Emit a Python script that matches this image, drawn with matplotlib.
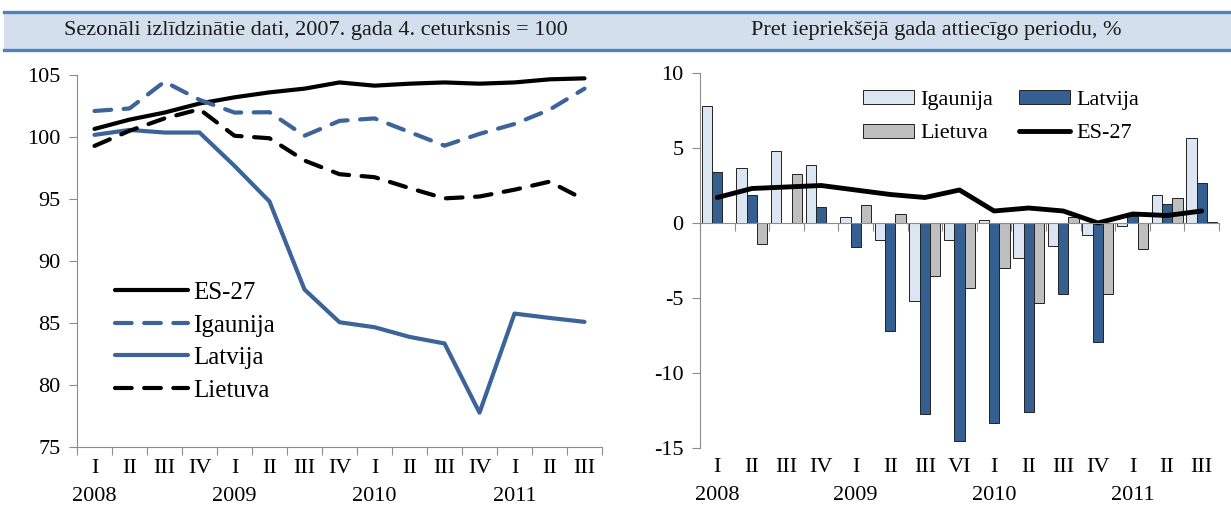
import matplotlib
matplotlib.use("Agg")
import matplotlib.pyplot as plt
import matplotlib.transforms as mtransforms
from matplotlib.patches import Rectangle
from matplotlib.lines import Line2D
import numpy as np

plt.rcParams['font.family'] = ['Liberation Serif', 'DejaVu Serif']
plt.rcParams['axes.unicode_minus'] = False

# categories
quarters_left = ['I', 'II', 'III', 'IV', 'I', 'II', 'III', 'IV', 'I', 'II', 'III', 'IV', 'I', 'II', 'III']
quarters_right = ['I', 'II', 'III', 'IV', 'I', 'II', 'III', 'VI', 'I', 'II', 'III', 'IV', 'I', 'II', 'III']
years = ['2008', '2009', '2010', '2011']
year_pos = [0, 4, 8, 12]

# left panel: index, 2007 Q4 = 100
es27_idx = [100.65, 101.4, 101.97, 102.7, 103.2, 103.6, 103.9, 104.4, 104.14, 104.3, 104.4, 104.3, 104.4, 104.65, 104.73]
ee_idx = [102.1, 102.3, 104.46, 103.0, 101.97, 102.0, 100.1, 101.3, 101.5, 100.4, 99.3, 100.25, 101.05, 102.2, 103.9]
lv_idx = [100.17, 100.57, 100.36, 100.36, 97.67, 94.8, 87.7, 85.06, 84.66, 83.88, 83.35, 77.77, 85.76, 85.41, 85.09]
lt_idx = [99.28, 100.5, 101.5, 102.24, 100.1, 99.9, 98.1, 97.0, 96.76, 95.88, 95.05, 95.2, 95.75, 96.4, 94.94]

# right panel: y/y change, %
ee_chg = [7.8, 3.7, 4.8, 3.9, 0.4, -1.1, -5.2, -1.1, 0.2, -2.3, -1.5, -0.8, -0.2, 1.9, 5.7]
lv_chg = [3.4, 1.9, 0.0, 1.1, -1.6, -7.2, -12.7, -14.5, -13.3, -12.6, -4.7, -7.9, 0.5, 1.3, 2.7]
lt_chg = [0.0, -1.4, 3.3, 0.0, 1.2, 0.6, -3.5, -4.3, -3.0, -5.3, 0.4, -4.7, -1.7, 1.7, 0.05]
es27_chg = [1.7, 2.3, 2.4, 2.5, 2.2, 1.9, 1.7, 2.2, 0.8, 1.0, 0.8, 0.0, 0.6, 0.5, 0.8]

blue = '#3C6499'
grey_axis = '#8C8C8C'
fs = 16

fig = plt.figure(figsize=(12.31, 5.12), dpi=100)

# header band
H = 512.0
fig.patches.append(Rectangle((4 / 1231, 1 - 49 / H), 1 - 4 / 1231, 36 / H, transform=fig.transFigure,
                             facecolor='#D4DFEE', edgecolor='none'))
for yy in (11.5, 49.5):
    fig.lines.append(Line2D([4 / 1231, 1], [1 - yy / H, 1 - yy / H], transform=fig.transFigure,
                            color='#4F81BD', linewidth=2.4))
fig.text(316 / 1231, 1 - 31 / H, 'Sezonāli izlīdzinātie dati, 2007. gada 4. ceturksnis = 100',
         ha='center', va='center', fontsize=16, color='#1a1a1a')
fig.text(936 / 1231, 1 - 31 / H, 'Pret iepriekšējā gada attiecīgo periodu, %',
         ha='center', va='center', fontsize=16, color='#1a1a1a')

x = np.arange(len(quarters_left))

# ---- left panel
ax1 = fig.add_axes([77 / 1231, 1 - 447 / H, (602 - 77) / 1231, (447 - 75) / H])
ax1.plot(x, es27_idx, color='black', lw=3, label='ES-27', solid_capstyle='round')
ax1.plot(x, ee_idx, color=blue, lw=3, dashes=(4, 3), dash_capstyle='round', label='Igaunija')
ax1.plot(x, lv_idx, color=blue, lw=3, label='Latvija', solid_capstyle='round')
ax1.plot(x, lt_idx, color='black', lw=3, dashes=(4, 3), dash_capstyle='round', label='Lietuva')
ax1.set_xlim(-0.5, 14.5)
ax1.set_ylim(75, 105)
ax1.set_yticks(range(75, 106, 5))
ax1.legend(loc='upper left', bbox_to_anchor=(0.03, 0.505), frameon=False, fontsize=18,
           handlelength=2.9, handletextpad=0.2, labelspacing=0.4)

# ---- right panel
ax2 = fig.add_axes([700 / 1231, 1 - 448 / H, (1219 - 700) / 1231, (448 - 73) / H])
w = 0.3
ax2.bar(x - w, ee_chg, w, color='#DCE6F2', edgecolor='#222222', linewidth=0.7, label='Igaunija')
ax2.bar(x, lv_chg, w, color='#355E91', edgecolor='#222222', linewidth=0.7, label='Latvija')
ax2.bar(x + w, lt_chg, w, color='#BFBFBF', edgecolor='#222222', linewidth=0.7, label='Lietuva')
ax2.plot(x, es27_chg, color='black', lw=3.5, label='ES-27', solid_capstyle='round')
ax2.set_xlim(-0.5, 14.5)
ax2.set_ylim(-15, 10)
ax2.set_yticks(range(-15, 11, 5))
ax2.spines['bottom'].set_position(('data', 0))
h, l = ax2.get_legend_handles_labels()
ax2.legend([h[1], h[3], h[2], h[0]], [l[1], l[3], l[2], l[0]], ncol=2, loc='upper left',
           bbox_to_anchor=(0.275, 1.007), frameon=False, fontsize=fs, handlelength=2.3,
           handleheight=0.6, handletextpad=0.3, columnspacing=1.15, labelspacing=0.6)

for ax, labels, yq, yy in ((ax1, quarters_left, -0.057, -0.133), (ax2, quarters_right, -0.053, -0.127)):
    for s in ('top', 'right'):
        ax.spines[s].set_visible(False)
    for s in ('left', 'bottom'):
        ax.spines[s].set_color(grey_axis)
    ax.set_xticks(np.arange(-0.5, 15, 1))
    ax.set_xticklabels([])
    ax.tick_params(axis='x', direction='out', length=6, color=grey_axis)
    ax.tick_params(axis='y', direction='out', length=6, color=grey_axis, labelsize=fs, pad=6)
    trans = mtransforms.blended_transform_factory(ax.transData, ax.transAxes)
    for i, q in enumerate(labels):
        ax.text(i, yq, q, transform=trans, ha='center', va='center', fontsize=fs)
    for p, yr in zip(year_pos, years):
        ax.text(p, yy, yr, transform=trans, ha='center', va='center', fontsize=fs)

fig.savefig('out.png', dpi=100)
